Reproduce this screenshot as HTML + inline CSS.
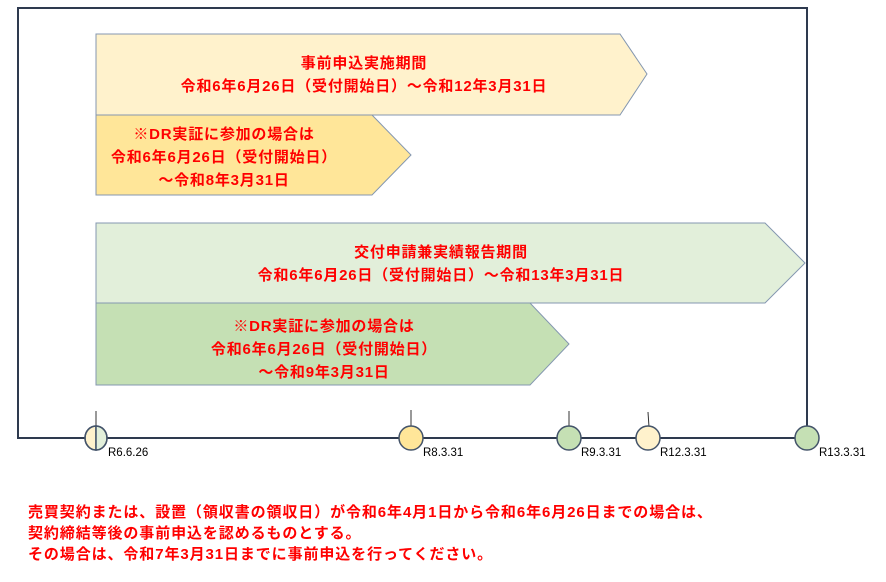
<!DOCTYPE html>
<html><head><meta charset="utf-8"><style>
body{margin:0;background:#fff}
text{font-family:"Liberation Sans","Noto Sans CJK JP",sans-serif}
.r{fill:#ff0000;font-weight:bold;font-size:15px;letter-spacing:0.8px;text-anchor:middle}
.l{font-size:11.5px;fill:#000}
</style></head><body>
<svg width="886" height="577" viewBox="0 0 886 577" xmlns="http://www.w3.org/2000/svg">
<rect width="886" height="577" fill="#fff"/>
<path d="M18 8H807V438H18Z" fill="none" stroke="#2e3a4f" stroke-width="2"/>
<polygon points="96,34 620,34 647,74 620,115 96,115" fill="#fff2cc" stroke="#8497b0" stroke-width="1"/>
<polygon points="96,115 372,115 411,155 372,195 96,195" fill="#ffe699" stroke="#8497b0" stroke-width="1"/>
<polygon points="96,223 765,223 805,263 765,303 96,303" fill="#e2efda" stroke="#8497b0" stroke-width="1"/>
<polygon points="96,303 530,303 569,344 530,385 96,385" fill="#c5e0b4" stroke="#8497b0" stroke-width="1"/>
<text class="r" x="364" y="68">事前申込実施期間</text>
<text class="r" x="364" y="91">令和6年6月26日（受付開始日）～令和12年3月31日</text>
<text class="r" x="224" y="139">※DR実証に参加の場合は</text>
<text class="r" x="224" y="162">令和6年6月26日（受付開始日）</text>
<text class="r" x="224" y="185">～令和8年3月31日</text>
<text class="r" x="441" y="257">交付申請兼実績報告期間</text>
<text class="r" x="441" y="280">令和6年6月26日（受付開始日）～令和13年3月31日</text>
<text class="r" x="324" y="331">※DR実証に参加の場合は</text>
<text class="r" x="324" y="354">令和6年6月26日（受付開始日）</text>
<text class="r" x="324" y="377">～令和9年3月31日</text>
<g stroke="#333" stroke-width="1">
<line x1="96" y1="411" x2="96" y2="427"/><line x1="411" y1="410" x2="411" y2="427"/>
<line x1="569" y1="411" x2="569" y2="427"/><line x1="648" y1="412" x2="649" y2="427"/>
</g>
<g stroke="#44546a" stroke-width="1.5">
<path d="M96 426A11 12 0 0 0 96 450Z" fill="#fff2cc"/>
<path d="M96 426A11 12 0 0 1 96 450Z" fill="#e2efda"/>
<ellipse cx="96" cy="438" rx="11" ry="12" fill="none"/>
<ellipse cx="411" cy="438" rx="12" ry="12" fill="#ffe699"/>
<ellipse cx="569" cy="438" rx="12" ry="12" fill="#c5e0b4"/>
<ellipse cx="648" cy="438" rx="12" ry="12" fill="#fff2cc"/>
<ellipse cx="807" cy="438" rx="12" ry="12" fill="#c5e0b4"/>
</g>
<text class="l" x="108" y="456">R6.6.26</text>
<text class="l" x="423" y="456">R8.3.31</text>
<text class="l" x="581" y="456">R9.3.31</text>
<text class="l" x="660" y="456">R12.3.31</text>
<text class="l" x="819" y="456">R13.3.31</text>
<g fill="#ff0000" font-weight="bold" font-size="15" letter-spacing="0.9">
<text x="28" y="517">売買契約または、設置（領収書の領収日）が令和6年4月1日から令和6年6月26日までの場合は、</text>
<text x="28" y="538">契約締結等後の事前申込を認めるものとする。</text>
<text x="28" y="559">その場合は、令和7年3月31日までに事前申込を行ってください。</text>
</g>
</svg>
</body></html>
